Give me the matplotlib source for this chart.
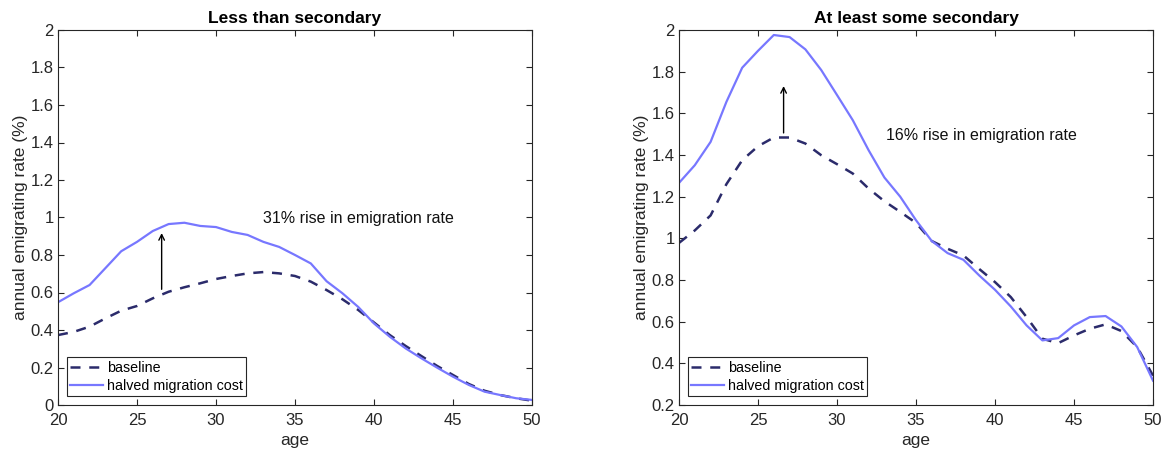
import numpy as np
import matplotlib
matplotlib.use("Agg")
import matplotlib.pyplot as plt

plt.rcParams['font.family'] = ['Liberation Sans', 'DejaVu Sans']

age = np.arange(20, 51)

# less than secondary
low_base = [0.373, 0.39, 0.418, 0.462, 0.503, 0.528, 0.569, 0.604, 0.628, 0.649,
            0.672, 0.688, 0.702, 0.709, 0.702, 0.688, 0.658, 0.613, 0.564, 0.507,
            0.44, 0.373, 0.315, 0.261, 0.208, 0.16, 0.112, 0.076, 0.053, 0.036, 0.023]
low_half = [0.548, 0.596, 0.64, 0.73, 0.82, 0.87, 0.928, 0.965, 0.972, 0.955,
            0.949, 0.923, 0.907, 0.87, 0.843, 0.80, 0.755, 0.66, 0.596, 0.523,
            0.435, 0.364, 0.302, 0.249, 0.199, 0.151, 0.107, 0.071, 0.053, 0.036, 0.027]

# at least some secondary
high_base = [0.978, 1.038, 1.11, 1.26, 1.375, 1.442, 1.484, 1.484, 1.455, 1.399,
             1.356, 1.311, 1.239, 1.178, 1.127, 1.074, 0.987, 0.95, 0.918, 0.853,
             0.79, 0.718, 0.622, 0.518, 0.497, 0.534, 0.566, 0.587, 0.555, 0.478, 0.341]
high_half = [1.266, 1.351, 1.463, 1.655, 1.819, 1.90, 1.976, 1.966, 1.907, 1.808,
             1.688, 1.567, 1.423, 1.292, 1.20, 1.087, 0.987, 0.929, 0.897, 0.822,
             0.753, 0.673, 0.582, 0.51, 0.521, 0.582, 0.622, 0.627, 0.577, 0.478, 0.317]

titles = ["Less than secondary", "At least some secondary"]
notes = ["31% rise in emigration rate", "16% rise in emigration rate"]
note_pos = [(33.0, 0.995), (33.1, 1.495)]
arrows = [(26.56, 0.617, 0.917), (26.62, 1.506, 1.731)]
ylims = [(0, 2), (0.2, 2)]

base_col = '#2b2b6b'
half_col = '#7777ff'
ax_col = '#262626'

fig = plt.figure(figsize=(11.66, 4.57), dpi=100)
axes = [fig.add_axes([58/1166, 52/457, 474/1166, 375/457]),
        fig.add_axes([679/1166, 52/457, 474/1166, 375/457])]

for i, ax in enumerate(axes):
    base = [low_base, high_base][i]
    half = [low_half, high_half][i]
    ax.plot(age, base, '--', color=base_col, lw=1.8, dashes=(4, 3.5), label='baseline')
    ax.plot(age, half, '-', color=half_col, lw=1.6, label='halved migration cost')
    ax.set_xlim(20, 50)
    ax.set_ylim(*ylims[i])
    ax.set_xticks([20, 25, 30, 35, 40, 45, 50])
    yt = np.round(np.arange(ylims[i][0], 2.001, 0.2), 1)
    ax.set_yticks(yt)
    ax.set_yticklabels(['%g' % v for v in yt])
    ax.tick_params(direction='in', top=True, right=True, length=4, width=0.8,
                   labelsize=12, colors=ax_col, pad=3)
    ax.tick_params(axis='x', pad=6)
    for s in ax.spines.values():
        s.set_color(ax_col)
        s.set_linewidth(0.8)
    ax.set_title(titles[i], fontsize=12.5, fontweight='bold', pad=5)
    ax.set_xlabel('age', fontsize=12.5, color=ax_col, labelpad=3)
    ax.set_ylabel('annual emigrating rate (%)', fontsize=12.5, color=ax_col, labelpad=2)
    x0, y0, y1 = arrows[i]
    ax.annotate('', xy=(x0, y1), xytext=(x0, y0),
                arrowprops=dict(arrowstyle='->', color='black', lw=1.0, shrinkA=0, shrinkB=0))
    ax.text(note_pos[i][0], note_pos[i][1], notes[i], fontsize=11.5, va='center', color='#111111')
    leg = ax.legend(loc='lower left', fontsize=10.3, fancybox=False, framealpha=1,
                    edgecolor=ax_col, borderpad=0.25, labelspacing=0.3, handlelength=2.3,
                    handletextpad=0.25, borderaxespad=0.6)
    leg.get_frame().set_linewidth(0.8)

fig.savefig('out.png', dpi=100)
